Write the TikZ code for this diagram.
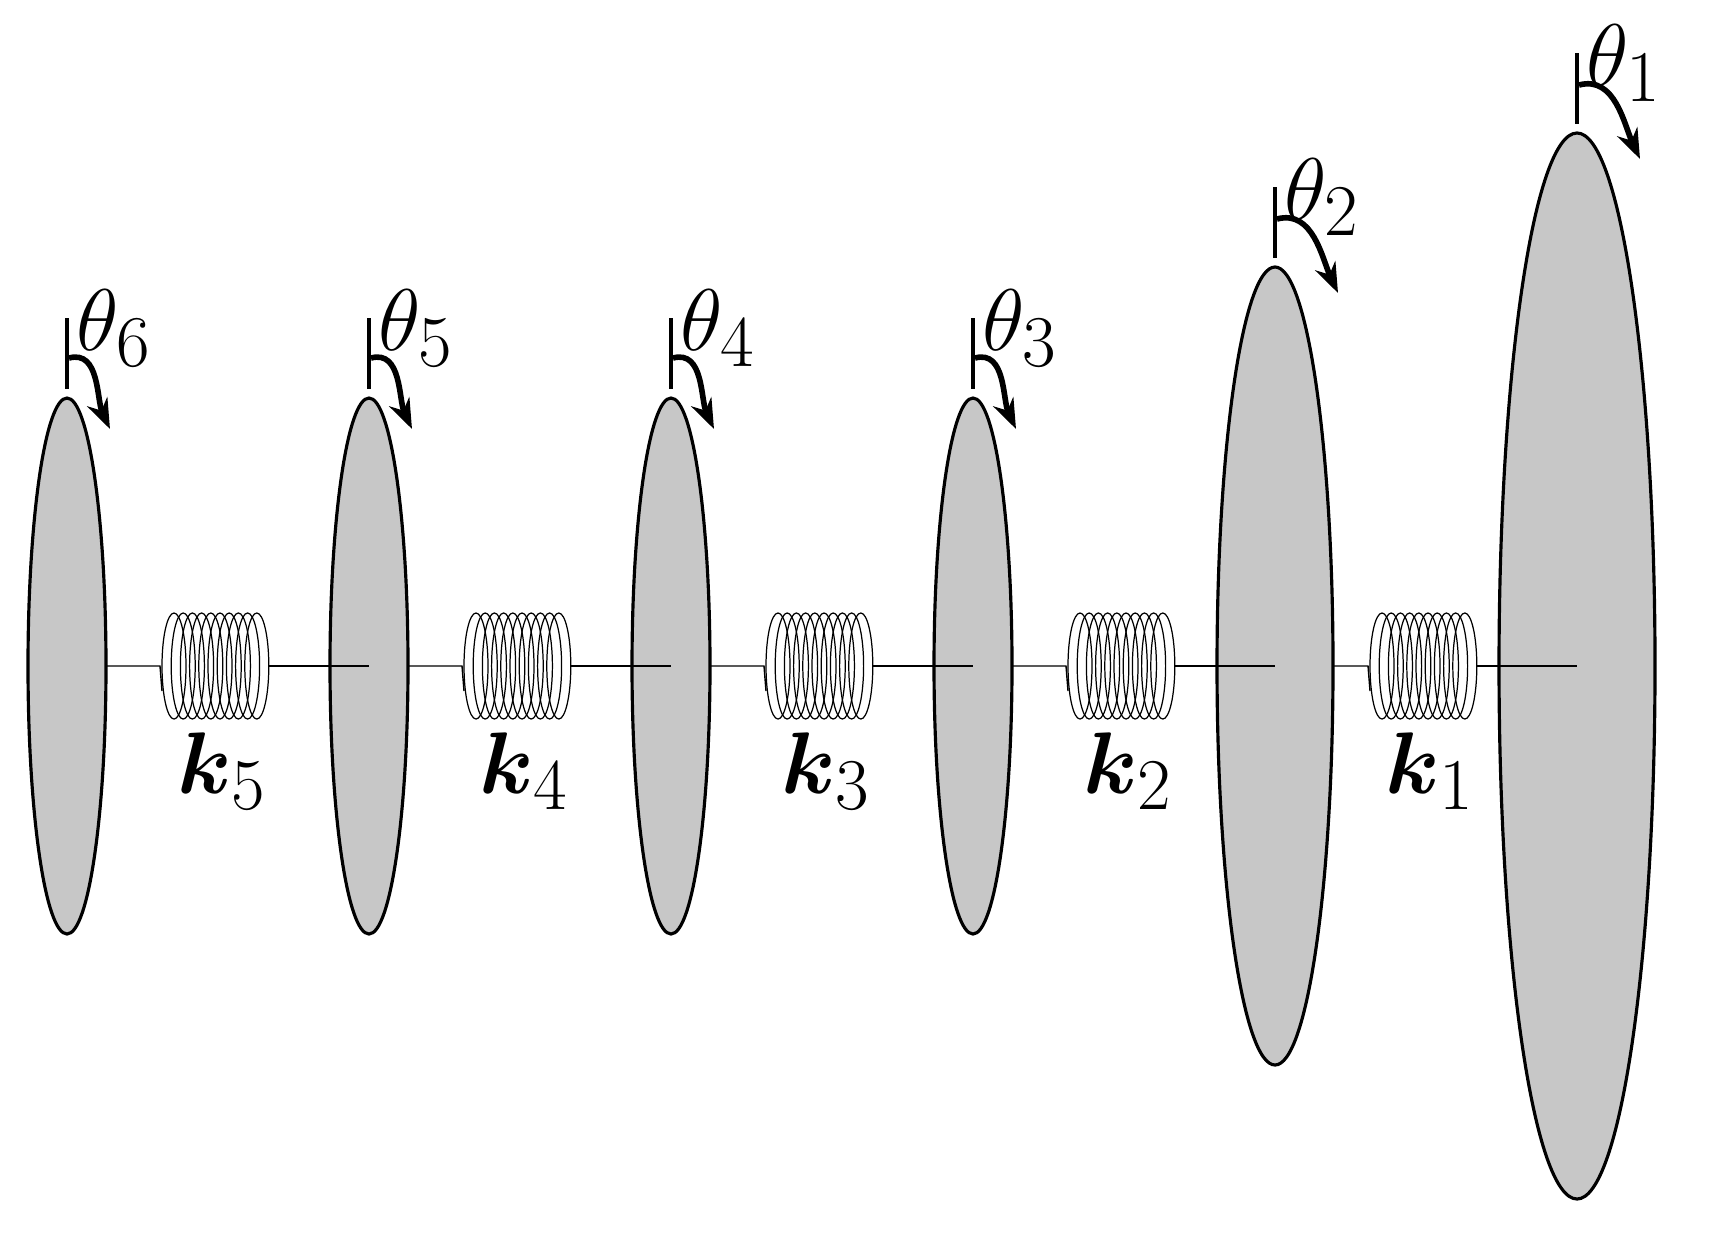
\documentclass[tikz,border=0pt]{standalone}
\usepackage{amsmath}
\usetikzlibrary{arrows.meta,shapes.geometric}
\begin{document}
\begin{tikzpicture}[x=0.01cm,y=-0.01cm,
  disk/.style={draw=black,line width=0.9pt,fill=black!22},
  shaft/.style={line width=0.4pt},
  loop/.style={line width=0.35pt},
  marker/.style={line width=1.2pt},
  rot/.style={line width=1.6pt,-{Stealth[length=0.30cm,width=0.22cm]}},
  lab/.style={font=\fontsize{28}{32}\selectfont}]
\useasboundingbox (0,0) rectangle (1713,1233);
\def\yc{666}
\foreach \i/\x/\rx/\ry/\ax/\ay/\sy in {1/1577/78/533/63/26/48,2/1275/58/399/63/26/48,3/973/39/268/43/31/40,4/671/39/268/43/31/40,5/369/39/268/43/31/40,6/67/39/268/43/31/40}{
  \ifnum\i>1
    \pgfmathsetmacro{\xr}{\x+302}
    \draw[shaft] (\x,\yc) -- (\x+93,\yc) -- (\x+95,\yc+25);
    \foreach \j in {0,...,9}{
      \draw[loop] (\x+107+\j*9.2,\yc) ellipse[x radius=0.12cm,y radius=0.53cm];
    }
    \draw[shaft] (\x+201,\yc) -- (\xr,\yc);
    \pgfmathtruncatemacro{\kk}{\i-1}
    \node[lab,anchor=base] (k\kk) at (\x+155,793) {$\boldsymbol{k}_{\kk}$};
  \fi
  \node[disk,ellipse,minimum width=2*\rx*0.01cm,minimum height=2*\ry*0.01cm,inner sep=0pt] (d\i) at (\x,\yc) {};
  \pgfmathsetmacro{\yt}{\yc-\ry}
  \coordinate (mt\i) at (\x,\yt-80);
  \coordinate (mb\i) at (\x,\yt-9);
  \coordinate (as\i) at (\x+2,\yt-\sy);
  \coordinate (ae\i) at (\x+\ax,\yt+\ay);
  \draw[marker] (mt\i) -- (mb\i);
  \draw[rot] (as\i) to[out=15,in=115] (ae\i);
  \node[lab,anchor=base west,inner sep=0pt] (t\i) at (\x+9,\yt-48) {$\theta_{\i}$};
}
\end{tikzpicture}
\end{document}
